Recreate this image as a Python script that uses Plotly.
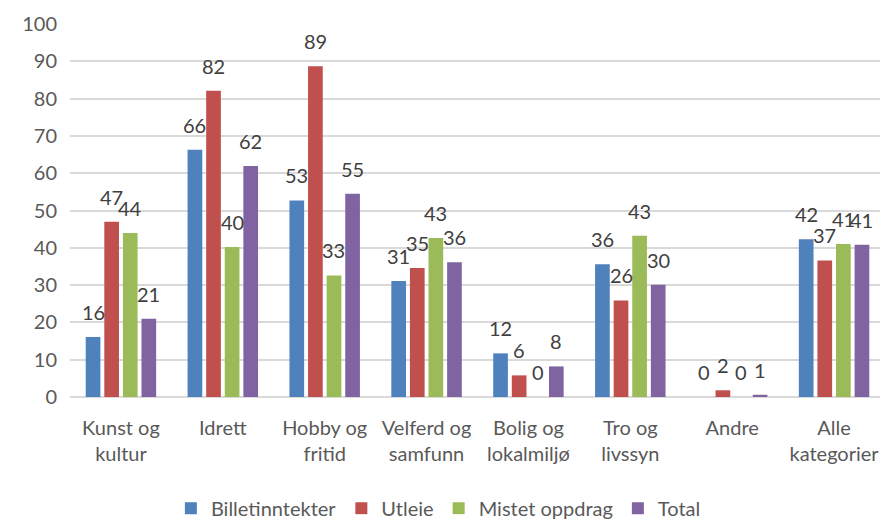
import plotly.graph_objects as go

categories = ["Kunst og<br>kultur", "Idrett", "Hobby og<br>fritid", "Velferd og<br>samfunn",
              "Bolig og<br>lokalmiljø", "Tro og<br>livssyn", "Andre", "Alle<br>kategorier"]
series_names = ["Billetinntekter", "Utleie", "Mistet oppdrag", "Total"]
billetinntekter = [16.1, 66.3, 52.7, 31.1, 11.7, 35.6, 0.0, 42.3]
utleie = [47.0, 82.1, 88.7, 34.6, 5.8, 25.9, 1.8, 36.6]
mistet_oppdrag = [44.0, 40.2, 32.6, 42.6, 0.0, 43.2, 0.0, 41.0]
total = [21.0, 61.9, 54.5, 36.1, 8.2, 30.1, 0.6, 40.8]
colors = ["#4F81BD", "#C0504D", "#9BBB59", "#8064A2"]
y_ticks = list(range(0, 101, 10))

FONT = "Lato, sans-serif"
BARGAP = 0.27
GROUPGAP = 0.21
all_series = [billetinntekter, utleie, mistet_oppdrag, total]

fig = go.Figure()
for name, vals, col in zip(series_names, all_series, colors):
    fig.add_trace(go.Bar(
        name=name, x=categories, y=vals, marker_color=col, marker_line_width=0,
    ))

# data labels above bars
n = len(all_series)
pitch = (1 - BARGAP) / n
for i, vals in enumerate(all_series):
    for j, v in enumerate(vals):
        fig.add_annotation(
            x=j + (i - (n - 1) / 2) * pitch, y=v, xref="x", yref="y",
            text=str(int(round(v + 1e-9))), showarrow=False,
            yanchor="middle", yshift=25,
            font=dict(family=FONT, size=20, color="#404040"),
        )

fig.update_layout(
    width=880, height=513,
    barmode="group", bargap=BARGAP, bargroupgap=GROUPGAP,
    plot_bgcolor="white", paper_bgcolor="white",
    margin=dict(l=62, r=3, t=16, b=124, autoexpand=False),
    font=dict(family=FONT, size=20, color="#595959"),
    xaxis=dict(showline=False, ticks="", automargin=False, ticklabelstandoff=17,
               tickfont=dict(size=20, color="#595959")),
    yaxis=dict(range=[0, 100], tickvals=y_ticks, showgrid=True, gridcolor="#D9D9D9", gridwidth=1.5,
               zeroline=True, zerolinecolor="#D9D9D9", zerolinewidth=1.5, ticks="", automargin=False,
               tickfont=dict(size=20, color="#595959"), ticklabelstandoff=12),
    legend=dict(orientation="h", x=0.452, y=-0.298,
                xanchor="center", yanchor="middle", font=dict(size=20, color="#595959"),
                itemwidth=30, tracegroupgap=0),
    showlegend=True,
)

fig.write_html("out.html")
